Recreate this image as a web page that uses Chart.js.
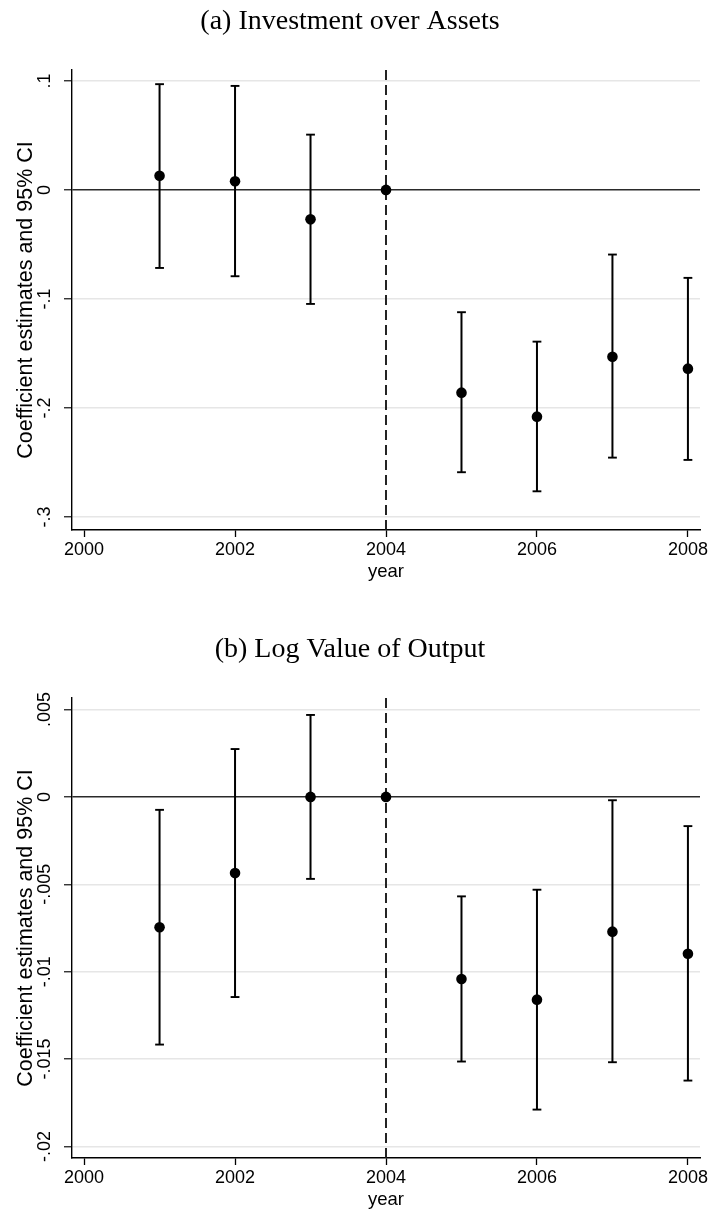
<!DOCTYPE html>
<html>
<head>
<meta charset="utf-8">
<script src="https://cdn.jsdelivr.net/npm/chart.js@4.4.1/dist/chart.umd.min.js"></script>
<style>
  html, body { margin: 0; padding: 0; background: #fff; overflow: hidden; }
  body { width: 711px; height: 1212px; position: relative; }
  .panel { position: absolute; left: 0; width: 711px; height: 606px; }
  #panelA { top: 0; }
  #panelB { top: 628px; }
</style>
</head>
<body>
<div class="panel" id="panelA"><canvas id="chartA" width="711" height="606"></canvas></div>
<div class="panel" id="panelB"><canvas id="chartB" width="711" height="606"></canvas></div>
<script>
// event-study estimates, one entry per year (2004 is the base year, no CI)
var years = [2001, 2002, 2003, 2004, 2005, 2006, 2007, 2008];

// (a) investment over assets
var coefA   = [0.013, 0.008, -0.027, 0, -0.186, -0.208, -0.153, -0.164];
var ciLowA  = [-0.0716, -0.0792, -0.1046, null, -0.259, -0.2765, -0.2456, -0.2477];
var ciHighA = [0.097, 0.0954, 0.0507, null, -0.1122, -0.1392, -0.0593, -0.0807];
var yTicksA = [0.1, 0, -0.1, -0.2, -0.3];
var yRangeA = [-0.312, 0.110];

// (b) log value of output
var coefB   = [-0.00746, -0.00436, 0, 0, -0.01042, -0.0116, -0.00771, -0.00897];
var ciLowB  = [-0.01417, -0.01145, -0.00469, null, -0.01514, -0.01789, -0.01518, -0.01623];
var ciHighB = [-0.00074, 0.00274, 0.00469, null, -0.00569, -0.00531, -0.00019, -0.00167];
var yTicksB = [0.005, 0, -0.005, -0.01, -0.015, -0.02];
var yRangeB = [-0.02066, 0.00566];

var xTicks = [2000, 2002, 2004, 2006, 2008];
var xRange = [1999.84, 2008.16];
var eventYear = 2004;

// stata style tick label: .1, -.005, 0
function stataNum(v){
  var s = String(Number(v.toPrecision(6)));
  return s.replace(/^(-?)0\./, '$1.');
}

// dashed vertical line at the event year
var eventLine = {
  id: 'eventLine',
  beforeDatasetsDraw: function(chart, args, opts){
    var ctx = chart.ctx, area = chart.chartArea;
    var x = chart.scales.x.getPixelForValue(opts.year);
    ctx.save();
    ctx.strokeStyle = '#1a1a1a';
    ctx.lineWidth = 1.9;
    ctx.setLineDash([10, 5]);
    ctx.beginPath();
    ctx.moveTo(x, area.top);
    ctx.lineTo(x, area.bottom);
    ctx.stroke();
    ctx.restore();
  }
};

function _each(arr, fn){ for (var i = 0; i < arr.length; i++) fn(arr[i], i); }

function makeChart(id, title, coef, ciLow, ciHigh, yTicks, yRange, yTickPad){
  var points = [], caps = [], bars = [];
  _each(years, function(yr, i){
    points.push({x: yr, y: coef[i]});
    if (ciLow[i] === null) return;
    caps.push({x: yr, y: ciLow[i]}, {x: yr, y: ciHigh[i]});
    bars.push({x: yr, y: ciLow[i]}, {x: yr, y: ciHigh[i]}, {x: yr, y: null});
  });

  return new Chart(document.getElementById(id), {
    type: 'scatter',
    data: {
      datasets: [
        { data: points, pointRadius: 5.3, pointHoverRadius: 5.3,
          backgroundColor: '#000', borderColor: '#000', borderWidth: 0 },
        { data: caps, pointStyle: 'line', pointRadius: 4.4, pointHoverRadius: 4.4,
          borderColor: '#000', borderWidth: 1.9 },
        { data: bars, showLine: true, spanGaps: false, pointRadius: 0,
          borderColor: '#000', borderWidth: 2 }
      ]
    },
    options: {
      responsive: false,
      animation: false,
      events: [],
      layout: { padding: { left: 0, right: 11, top: 0, bottom: 0 } },
      plugins: {
        legend: { display: false },
        tooltip: { enabled: false },
        title: {
          display: true, text: title, color: '#000',
          font: { family: 'Liberation Serif', size: 28, weight: 'normal' },
          padding: { top: 5, bottom: 31.4 }
        },
        eventLine: { year: eventYear }
      },
      scales: {
        x: {
          type: 'linear', position: 'bottom',
          min: xRange[0], max: xRange[1],
          afterBuildTicks: function(s){ s.ticks = xTicks.map(function(v){ return {value: v}; }); },
          afterFit: function(s){ s.height = 76; },
          border: { display: true, color: '#000', width: 1.4 },
          grid: { drawOnChartArea: false, tickLength: 7, tickColor: '#000', tickWidth: 1.3 },
          ticks: {
            color: '#000', padding: 2, maxRotation: 0,
            font: { family: 'Liberation Sans', size: 18 },
            callback: function(v){ return String(v); }
          },
          title: {
            display: true, text: 'year', color: '#000',
            font: { family: 'Liberation Sans', size: 18.5 },
            padding: { top: 0, bottom: 23 }
          }
        },
        y: {
          type: 'linear', position: 'left',
          min: yRange[0], max: yRange[1],
          afterBuildTicks: function(s){ s.ticks = yTicks.map(function(v){ return {value: v}; }); },
          afterFit: function(s){ s.width = 72; },
          border: { display: true, color: '#000', width: 1.4 },
          grid: {
            tickLength: 8, tickColor: '#222', tickWidth: 1.3,
            lineWidth: 1.5,
            color: function(c){ return c.tick && c.tick.value === 0 ? '#2a2a2a' : '#e6e6e6'; }
          },
          ticks: {
            color: '#000', padding: yTickPad, minRotation: 90, maxRotation: 90,
            crossAlign: 'center',
            font: { family: 'Liberation Sans', size: 18 },
            callback: function(v){ return stataNum(v); }
          },
          title: {
            display: true, text: 'Coefficient estimates and 95% CI', color: '#000',
            font: { family: 'Liberation Sans', size: 21.5 },
            padding: { top: 13.5, bottom: 0 }
          }
        }
      }
    },
    plugins: [eventLine]
  });
}

makeChart('chartA', '(a) Investment over Assets', coefA, ciLowA, ciHighA, yTicksA, yRangeA, 8);
makeChart('chartB', '(b) Log Value of Output', coefB, ciLowB, ciHighB, yTicksB, yRangeB, -2);
</script>
</body>
</html>
